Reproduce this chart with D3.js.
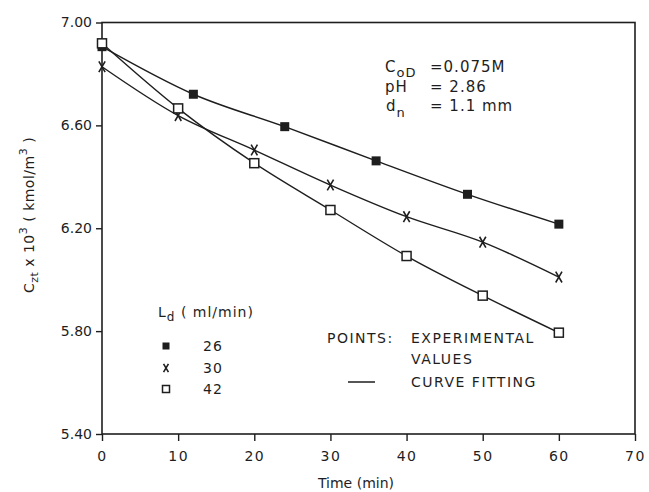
<!DOCTYPE html>
<html>
<head>
<meta charset="utf-8">
<script src="https://cdn.jsdelivr.net/npm/d3@7"></script>
<style>
  body { margin: 0; background: #fff; }
  svg text { font-family: 'DejaVu Sans', sans-serif; fill: #1e1e1e; }
</style>
</head>
<body>
<div id="chart"></div>
<script>
// values
const times26 = [0, 12, 24, 36, 48, 60];
const conc26 = [6.906, 6.721, 6.595, 6.462, 6.332, 6.216];
const times30 = [0, 10, 20, 30, 40, 50, 60];
const conc30 = [6.828, 6.638, 6.504, 6.368, 6.245, 6.146, 6.010];
const times42 = [0, 10, 20, 30, 40, 50, 60];
const conc42 = [6.919, 6.666, 6.453, 6.271, 6.092, 5.938, 5.794];

const seriesLabels = ['26', '30', '42'];
const xTicks = [0, 10, 20, 30, 40, 50, 60, 70];
const yTicks = [5.40, 5.80, 6.20, 6.60, 7.00];

const ink = '#1e1e1e';
const width = 649, height = 492;
const margin = { top: 22.5, right: 14, bottom: 58, left: 102 };

const svg = d3.select('#chart').append('svg')
  .attr('width', width).attr('height', height);

const x = d3.scaleLinear().domain([0, 70]).range([margin.left, width - margin.right]);
const y = d3.scaleLinear().domain([5.4, 7.0]).range([height - margin.bottom, margin.top]);

// axes
const gx = svg.append('g')
  .attr('transform', `translate(0,${y(5.4)})`)
  .call(d3.axisBottom(x).tickValues(xTicks).tickSize(7).tickPadding(10).tickFormat(d3.format('d')));
gx.select('.domain').remove();
gx.selectAll('line').attr('stroke', ink).attr('stroke-width', 1.4);
gx.selectAll('text').style('font-size', '14px').attr('letter-spacing', '1.5px');

const gy = svg.append('g')
  .attr('transform', `translate(${x(0)},0)`)
  .call(d3.axisLeft(y).tickValues(yTicks).tickSize(6).tickPadding(4).tickFormat(d3.format('.2f')));
gy.select('.domain').remove();
gy.selectAll('line').attr('stroke', ink).attr('stroke-width', 1.4);
gy.selectAll('text').style('font-size', '14px');

// frame
svg.append('rect')
  .attr('x', x(0)).attr('y', y(7.0))
  .attr('width', x(70) - x(0)).attr('height', y(5.4) - y(7.0))
  .attr('fill', 'none').attr('stroke', ink).attr('stroke-width', 1.6);

// axis titles
svg.append('text')
  .attr('x', 356).attr('y', 488)
  .attr('text-anchor', 'middle').style('font-size', '14px')
  .text('Time (min)');

const yt = svg.append('text')
  .attr('transform', 'translate(34,215) rotate(-90)')
  .attr('text-anchor', 'middle').style('font-size', '14px').attr('letter-spacing', '0.5px');
yt.append('tspan').text('C');
yt.append('tspan').attr('dy', 4).style('font-size', '11px').text('zt');
yt.append('tspan').attr('dy', -4).text(' x 10');
yt.append('tspan').attr('dy', -7).style('font-size', '11px').text('3');
yt.append('tspan').attr('dy', 7).text(' ( kmol/m');
yt.append('tspan').attr('dy', -7).style('font-size', '11px').text('3');
yt.append('tspan').attr('dy', 7).text(' )');

// markers
const filledSquare = (g, s) => g.append('rect')
  .attr('x', -s / 2).attr('y', -s / 2).attr('width', s).attr('height', s)
  .attr('fill', ink);
const openSquare = (g, s) => g.append('rect')
  .attr('x', -s / 2).attr('y', -s / 2).attr('width', s).attr('height', s)
  .attr('fill', '#fff').attr('stroke', ink).attr('stroke-width', 1.5);
const cross = (g, s) => g.append('path')
  .attr('d', `M${-s * 0.35},${-s * 0.6}L${s * 0.35},${s * 0.6}M${s * 0.35},${-s * 0.6}L${-s * 0.35},${s * 0.6}`)
  .attr('stroke', ink).attr('stroke-width', 1.6).attr('fill', 'none');

const series = [
  { t: times26, c: conc26, marker: filledSquare },
  { t: times30, c: conc30, marker: cross },
  { t: times42, c: conc42, marker: openSquare },
];

const line = d3.line()
  .x((d) => x(d[0]))
  .y((d) => y(d[1]))
  .curve(d3.curveMonotoneX);

series.forEach((s) => {
  const pts = s.t.map((t, i) => [t, s.c[i]]);
  svg.append('path')
    .datum(pts)
    .attr('d', line)
    .attr('fill', 'none').attr('stroke', ink).attr('stroke-width', 1.4);
});

series.forEach((s) => {
  s.t.forEach((t, i) => {
    const g = svg.append('g').attr('transform', `translate(${x(t)},${y(s.c[i])})`);
    s.marker(g, 9);
  });
});

// conditions
const cond = svg.append('g').style('font-size', '15px').attr('letter-spacing', '1px');
const c1 = cond.append('text').attr('x', 385).attr('y', 72);
c1.append('tspan').text('C');
c1.append('tspan').attr('dy', 5).style('font-size', '13px').text('oD');
cond.append('text').attr('x', 430).attr('y', 72).text('=0.075M');
cond.append('text').attr('x', 385).attr('y', 92).text('pH');
cond.append('text').attr('x', 430).attr('y', 92).text('= 2.86');
const c3 = cond.append('text').attr('x', 386).attr('y', 111);
c3.append('tspan').text('d');
c3.append('tspan').attr('dy', 6).style('font-size', '13px').text('n');
cond.append('text').attr('x', 430).attr('y', 111).text('= 1.1 mm');

// legend
const leg = svg.append('g').style('font-size', '14px').attr('letter-spacing', '1px');
const lt = leg.append('text').attr('x', 158).attr('y', 317);
lt.append('tspan').text('L');
lt.append('tspan').attr('dy', 4).style('font-size', '12px').text('d');
lt.append('tspan').attr('dy', -4).text(' ( ml/min)');
const legendMarkers = [filledSquare, cross, openSquare];
const legendY = [346, 368, 389];
seriesLabels.forEach((lab, i) => {
  const g = leg.append('g').attr('transform', `translate(166,${legendY[i]})`);
  legendMarkers[i](g, 7);
  leg.append('text').attr('x', 203).attr('y', legendY[i] + 5).text(lab);
});

const note = svg.append('g').style('font-size', '14px').attr('letter-spacing', '1.5px');
note.append('text').attr('x', 327).attr('y', 343).text('POINTS:');
note.append('text').attr('x', 411).attr('y', 343).text('EXPERIMENTAL');
note.append('text').attr('x', 411).attr('y', 364).text('VALUES');
note.append('line').attr('x1', 348).attr('x2', 375).attr('y1', 382).attr('y2', 382)
  .attr('stroke', ink).attr('stroke-width', 1.5);
note.append('text').attr('x', 411).attr('y', 387).text('CURVE FITTING');
</script>
</body>
</html>
